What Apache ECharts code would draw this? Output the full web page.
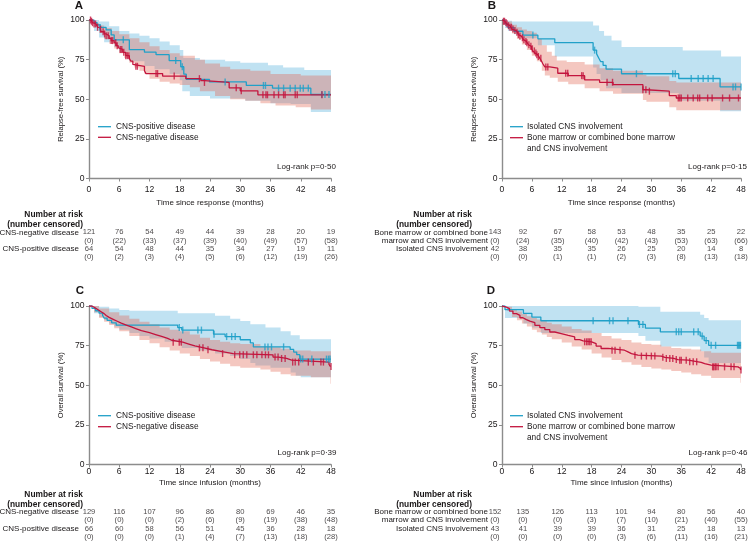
<!DOCTYPE html>
<html><head><meta charset="utf-8">
<script src="https://cdn.jsdelivr.net/npm/echarts@6/dist/echarts.min.js"></script>
<style>html,body{margin:0;padding:0;background:#fff}#c{width:750px;height:558px}</style>
</head><body><div id="c"></div>
<script>
// ---------- data ----------
const monthTicks = [0, 6, 12, 18, 24, 30, 36, 42, 48];

// Panel A: relapse-free survival by CNS status
const rfsPosA = [[0,100],[1,98.4],[1.6,96.9],[2.2,95.3],[3.4,93.8],[4.4,90.6],[5,87.5],[8,81.3],[11,79.7],[13.3,78.1],[15.9,74.4],[18.2,70.5],[18.8,65.8],[19.3,62.5],[23.9,60.9],[31.2,58.7],[36.4,57.0],[44,53.0],[48,53.0]];
const rfsNegA = [[0,100],[0.4,99.2],[0.7,98.3],[1.0,97.5],[1.4,96.6],[1.7,95.4],[2.1,94.2],[2.4,92.6],[3.0,91.2],[3.4,90.1],[4.0,88.4],[4.4,87.0],[5.0,85.6],[5.4,83.8],[5.8,82.5],[6.0,81.4],[6.7,79.6],[7.3,77.5],[8.0,75.8],[8.3,74.0],[8.7,72.0],[9.0,70.8],[11.0,68.0],[11.3,66.2],[14.6,64.6],[19.2,63.0],[22.2,61.7],[22.9,60.6],[27.8,57.2],[30.0,55.3],[33.5,52.8],[48,52.8]];
const censPosA = [2.2,6.8,17.2,18.5,27.0,34.6,35.0,37.6,38.6,39.9,40.9,41.9,42.5,43.5,46.2,46.8,47.6];
const censNegA = [0.3,0.5,0.7,1.0,1.3,1.7,2.3,2.8,3.1,3.4,3.8,4.4,4.7,5.3,5.6,6.2,6.5,6.9,7.3,7.6,7.9,9.3,9.6,13.3,13.6,16.9,21.9,22.9,29.2,30.2,34.5,35.1,35.4,36.7,37.6,38.6,38.9,40.9,41.3,46.2];
const bandPosA_up = [[0,100],[2,99],[4,96],[6,93],[8,91.5],[10,90],[12,88.5],[14,86.5],[16,84],[18,81],[18.7,76],[22,75],[27,74],[30,73],[35.5,71.5],[38.5,70],[42.7,68.5],[48,68.5]];
const bandPosA_lo = [[0,100],[1,93],[2,89],[3,86],[5,83],[6,80],[8,74],[11,71],[13,69],[16,66],[18,62],[18.5,55],[20,52],[24,50.5],[28,50.5],[31,49],[36,47.5],[40,47],[44,42],[48,41.5]];
const bandNegA_up = [[0,100],[1,98],[2,96.5],[3,95],[4.5,93],[6,91],[8,88.5],[10,86],[12,83.5],[14,81],[16,79],[18,77.5],[21,75],[23,72.5],[26,70.5],[28,69],[32,68],[36,66],[42,65],[48,65]];
const bandNegA_lo = [[0,100],[1,96],[2,92],[3,88],[4,85],[5,82],[6,79],[7,76],[8,73],[9,70],[10,68],[11,66],[12,63],[14,61],[16,60],[18,59],[20,57.5],[22,55],[25,52],[28,50],[31,49],[34,47.5],[37,46],[41,45],[44,43.5],[48,43]];
const riskNegA = [121,76,54,49,44,39,28,20,19];
const censNumNegA = [0,22,33,37,39,40,49,57,58];
const riskPosA = [64,54,48,44,35,34,27,19,11];
const censNumPosA = [0,2,3,4,5,6,12,19,26];

// Panel B: relapse-free survival by site of disease
const rfsIsoB = [[0,100],[0.6,97.6],[1.2,95.2],[2.4,92.9],[4.2,90.5],[7.2,88.1],[10.6,85.7],[18.3,81.0],[19.0,78.6],[19.4,76.2],[19.8,73.8],[20.3,71.4],[20.9,69.0],[24.0,66.1],[35.5,63.1],[43.8,57.8],[48,57.8]];
const rfsBmB = [[0,100],[0.3,99.2],[0.6,98.4],[0.9,97.6],[1.2,96.4],[1.6,95.4],[2.0,94.3],[2.4,93.3],[2.9,92.2],[3.3,90.8],[3.6,89.8],[3.9,88.8],[4.3,87.6],[4.6,86.5],[4.9,85.6],[5.3,84.4],[5.6,83.4],[5.9,81.8],[6.2,80.5],[6.6,79.2],[6.9,78.0],[7.2,77.0],[7.6,75.8],[7.9,74.3],[8.2,72.4],[8.6,70.4],[9.6,69.6],[11.2,66.4],[13.3,64.9],[16.6,62.2],[19.6,60.7],[22.3,59.2],[28.3,56.0],[29.0,55.1],[33.6,52.3],[35.0,50.8],[48,50.8]];
const censIsoB = [6.2,18.6,27.0,34.3,34.8,38.0,39.4,40.4,41.4,42.4,46.4,46.9,48.0];
const censBmB = [0.3,0.5,0.8,1.0,1.3,1.6,1.9,2.2,2.6,3.0,3.3,3.6,4.1,4.4,4.8,5.0,5.4,5.8,6.1,6.5,6.8,7.0,7.3,7.8,8.8,9.2,12.8,13.2,16.0,16.3,21.1,22.2,28.3,28.9,29.6,35.4,35.7,36.0,37.3,38.4,39.3,39.7,41.3,42.2,44.3,45.7,47.5];
const bandIsoB_up = [[0,100],[1,99.5],[2,99],[18.3,96.5],[19.5,93],[20.5,90],[22,87],[24,83],[36.3,80.7],[44,77],[48,77]];
const bandIsoB_lo = [[0,100],[0.6,95],[1.2,93],[2.4,91],[4.2,88.5],[7.2,84],[10.6,77],[18.3,70],[19,66],[19.8,62],[20.9,57],[24,54],[35.5,49],[43.8,42.5],[48,42.5]];
const bandBmB_up = [[0,100],[1,99],[2,97],[3,95.5],[4,94],[5,93],[6,92],[7,88],[8,84],[9,80],[10,77.5],[11,74.5],[13,73.5],[16.6,72],[19.6,69.5],[22.3,68],[28.3,65.5],[29,64.5],[33.6,61.5],[35,60.5],[48,60.5]];
const bandBmB_lo = [[0,100],[1,96],[2,91.5],[3,88],[4,84.5],[5,81],[6,77.5],[7,74],[8,68],[8.6,65],[9.6,63.5],[11.2,61],[13.3,59.5],[16.6,57],[19.6,55],[22.3,53.5],[28.3,49.5],[29,48.5],[33.6,45],[35,43],[48,42.5]];
const riskBmB = [143,92,67,58,53,48,35,25,22];
const censNumBmB = [0,24,35,40,42,43,53,63,66];
const riskIsoB = [42,38,35,35,26,25,20,14,8];
const censNumIsoB = [0,0,1,1,2,3,8,13,18];

// Panel C: overall survival by CNS status
const osPosC = [[0,100],[0.6,98.5],[1.3,97.0],[2.0,95.5],[2.7,94.0],[3.0,92.4],[3.6,90.9],[4.5,89.4],[5.4,87.9],[17.6,86.4],[18.4,84.8],[24.7,82.2],[27.0,80.7],[30.0,78.7],[32.0,76.7],[32.6,74.2],[39.9,72.6],[40.6,70.9],[41.2,69.3],[41.8,66.5],[48,66.5]];
const osNegC = [[0,100],[0.6,98.8],[1.2,97.6],[1.8,96.4],[2.4,95.2],[3.0,94.0],[3.4,92.8],[4.0,91.6],[4.8,90.4],[5.6,89.2],[6.4,88.0],[7.4,86.8],[8.4,85.6],[9.4,84.4],[10.4,83.2],[12.0,82.0],[13.2,80.8],[14.4,79.6],[15.6,78.4],[16.4,77.2],[18.6,76.0],[19.8,74.8],[21.0,73.6],[22.8,72.4],[24.4,71.2],[26.4,70.0],[28.6,69.2],[36.5,67.8],[37.6,66.9],[39.2,65.8],[40.2,64.6],[47.6,63.2],[47.9,61.8],[48,61.8]];
const censPosC = [17.9,18.6,21.6,22.3,24.8,27.3,28.3,29.0,34.9,35.5,36.2,38.6,42.0,42.4,44.2,47.1,47.5,47.8];
const censNegC = [16.7,17.9,18.3,21.9,22.6,23.6,26.5,28.9,29.9,30.6,31.3,32.6,33.3,34.3,35.0,35.6,36.9,37.5,38.2,38.9,40.4,40.9,41.6,43.5,44.5,46.0,46.5,48.0];
const bandPosC_up = [[0,100],[2,99.5],[4,98.5],[6,97.5],[8,97],[17.6,95.5],[25,93.8],[28,92],[30,90.5],[32,88.5],[35,86.5],[38,84],[40,81.5],[41.8,79],[48,79]];
const bandPosC_lo = [[0,100],[1,95.5],[2,93],[3,91],[4,89],[5,87],[6,85],[8,83],[10,81],[12,79.5],[15,77.5],[18,75.5],[18.4,73.5],[22,72],[25,70],[28,68.5],[30,66.5],[32,64],[33,62.5],[36,61],[40,58],[41,56],[42,55],[48,54.3]];
const bandNegC_up = [[0,100],[2,98.5],[4,96],[6,94],[8,92],[10,90],[12,88.5],[14,86.5],[16,85],[18,84],[20,82],[22,80],[24,78.5],[26,77.5],[28,76.5],[30,76],[34,74.5],[36,74],[38,73],[40,72],[44,71.5],[48,71]];
const bandNegC_lo = [[0,100],[1,96],[2,92.5],[3,90],[4,88],[5,86],[6,84],[8,81],[10,78.5],[12,76.5],[14,74],[16,72],[18,70],[20,68.5],[22,66.5],[24,65],[26,63.5],[28,62],[30,61],[34,60],[36,58.5],[38,57],[40,56],[44,55],[47.9,51]];
const riskNegC = [129,116,107,96,86,80,69,46,35];
const censNumNegC = [0,0,0,2,6,9,19,38,48];
const riskPosC = [66,60,58,56,51,45,36,28,18];
const censNumPosC = [0,0,0,1,4,7,13,18,28];

// Panel D: overall survival by site of disease
const osIsoD = [[0,100],[0.6,97.7],[4.3,95.4],[6.0,93.0],[7.8,90.7],[27.4,88.4],[28.8,86.1],[31.8,83.7],[39.8,81.0],[40.6,78.2],[41.5,75.2],[48,75.2]];
const osBmD = [[0,100],[0.4,99.3],[0.9,98.3],[1.5,96.8],[2.2,95.2],[2.9,94.1],[3.6,92.6],[4.2,91.4],[4.9,90.5],[5.6,89.5],[6.6,87.8],[7.6,86.4],[8.6,85.1],[9.6,83.6],[10.6,82.6],[11.9,81.5],[13.3,80.5],[14.6,78.8],[15.6,78.0],[16.3,77.4],[18.0,76.3],[18.9,74.7],[19.9,73.2],[21.3,72.1],[24.6,71.1],[25.3,70.0],[26.0,69.0],[27.3,68.4],[32.0,67.6],[32.7,66.9],[34.5,66.2],[35.3,65.8],[37.4,64.8],[39.4,64.4],[40.0,63.6],[40.7,62.7],[42.0,61.6],[47.4,60.6],[47.9,59.6],[48,59.6]];
const censIsoD = [18.3,21.6,22.3,25.3,27.6,28.3,35.0,35.5,36.0,38.5,39.4,40.2,41.0,42.0,42.9,47.3,47.5,47.7,47.9];
const censBmD = [16.6,17.0,17.3,17.6,17.9,22.1,22.7,23.7,26.7,28.0,29.0,30.0,30.7,32.3,33.0,33.7,34.3,35.0,35.7,36.0,37.0,37.7,38.4,39.1,42.3,42.5,42.8,43.0,43.4,44.7,46.0,46.6,48.0];
const bandIsoD_up = [[0,100],[27.4,99.5],[31.8,96.3],[39.8,94.5],[40.6,92.5],[41.5,91],[48,91]];
const bandIsoD_lo = [[0,100],[0.6,92.5],[4.3,89],[6,86.5],[7.8,83],[27.4,81],[28.8,78],[31.8,74.5],[39.8,71.5],[40.6,67.5],[41.5,64],[48,64]];
const bandBmD_up = [[0,100],[1,99.5],[2,98],[3,96.5],[4,95],[5,93.5],[6,92.5],[7,91.5],[8,90.5],[9,89.5],[10,88.5],[12,87],[14,85.5],[16,84.5],[18,83],[20,81],[22,79.5],[24,78.5],[26,77],[28,76],[30,75.5],[32,74.5],[34,73.5],[36,73],[38,72.5],[40,71.5],[42,70.5],[48,70]];
const bandBmD_lo = [[0,100],[1,97],[2,93],[3,91],[4,89],[5,87],[6,85],[7,83.5],[8,82],[9,80.5],[10,79],[12,77],[14,74.5],[16,72.5],[18,70],[20,67.5],[22,66],[24,64.5],[26,63],[28,61.5],[30,60.5],[32,60],[34,59],[36,58],[38,57],[40,56],[42,54.5],[47.9,51.5]];
const riskBmD = [152,135,126,113,101,94,80,56,40];
const censNumBmD = [0,0,0,3,7,10,21,40,55];
const riskIsoD = [43,41,39,39,36,31,25,18,13];
const censNumIsoD = [0,0,0,0,3,6,11,16,21];

const rowsCNS = ['CNS-negative disease', '', 'CNS-positive disease', ''];
const rowsSite = ['Bone marrow or combined bone', 'marrow and CNS involvement', 'Isolated CNS involvement', ''];

// ---------- styling / layout ----------
const FONT = "'Liberation Sans',Arial,sans-serif";
const FS = 8;          // general text
const FS_TICK = 8.6;   // axis tick labels
const FS_NUM = 7.6;    // risk table numbers
const FS_LEG = 8.3;    // legend text
const FS_YNAME = 7.6;  // y axis names
const FS_HEAD = 8.4;   // risk table header
const BLUE = '#20a0c8', RED = '#c3143d';
const BLUE_BAND = 'rgba(80,175,220,0.36)', RED_BAND = 'rgba(225,100,80,0.36)';
const AXIS_C = '#8c8c8c', TXT = '#1a1718';
const XMAX = 48;

const plotGrids = [
  {left: 89, top: 20, width: 242, height: 158.5},
  {left: 502, top: 20, width: 239, height: 158.5},
  {left: 89, top: 306, width: 242, height: 158.5},
  {left: 502, top: 306, width: 239, height: 158.5}
];
const riskGrids = [
  {left: 89, top: 228.2, width: 242, height: 33},
  {left: 502, top: 228.2, width: 239, height: 33},
  {left: 89, top: 507.5, width: 242, height: 33.7},
  {left: 502, top: 507.5, width: 239, height: 33.7}
];
// horizontal pixel nudges of the first risk-table columns (layout only)
const colNudgeCNS = [0, 0, 0, 0, 0, 0, 0, 0, 0];
const colNudgeSite = [-7, -9, -4, 0, 0, 0, 0, 0, 0];
const xNames = ['Time since response (months)', 'Time since response (months)', 'Time since infusion (months)', 'Time since infusion (months)'];
const yNames = ['Relapse-free survival (%)', 'Relapse-free survival (%)', 'Overall survival (%)', 'Overall survival (%)'];
const xLabelMargin = [7, 7, 2.5, 2.5];
const xNameGap = [20, 20, 14, 14];
const riskLabelMargin = [10, 14, 10, 14];

function stepAt(curve, t) {
  let v = curve[0][1];
  for (const p of curve) { if (p[0] <= t) v = p[1]; else break; }
  return v;
}

function bandSeries(ax, up, lo, color) {
  return {
    type: 'custom', xAxisIndex: ax, yAxisIndex: ax, silent: true, z: 1,
    data: [[0, 100]],
    renderItem: function (params, api) {
      const pts = [];
      for (let i = 0; i < up.length; i++) {
        const t1 = i + 1 < up.length ? up[i + 1][0] : XMAX;
        pts.push(api.coord([up[i][0], up[i][1]]), api.coord([t1, up[i][1]]));
      }
      for (let i = lo.length - 1; i >= 0; i--) {
        const t1 = i + 1 < lo.length ? lo[i + 1][0] : XMAX;
        pts.push(api.coord([t1, lo[i][1]]), api.coord([lo[i][0], lo[i][1]]));
      }
      return {type: 'polygon', shape: {points: pts}, style: {fill: color}, silent: true};
    }
  };
}
function lineSeries(ax, name, curve, color) {
  return {type: 'line', name: name, xAxisIndex: ax, yAxisIndex: ax, data: curve, step: 'end',
    showSymbol: false, symbol: 'none', silent: true, z: 3,
    lineStyle: {color: color, width: 1.3}, itemStyle: {color: color}};
}
function censorSeries(ax, curve, times, color) {
  return {type: 'scatter', xAxisIndex: ax, yAxisIndex: ax, silent: true, z: 4,
    symbol: 'rect', symbolSize: [1.4, 7], itemStyle: {color: color},
    data: times.map(t => [t, stepAt(curve, t)])};
}
function riskSeries(ax, r1, c1, r2, c2, nudge) {
  const data = [];
  monthTicks.forEach((m, i) => {
    const lab = {offset: [nudge[i], 0]};
    data.push({value: [m, 0], text: String(r1[i]), label: lab});
    data.push({value: [m, 1], text: '(' + c1[i] + ')', label: lab});
    data.push({value: [m, 2], text: String(r2[i]), label: lab});
    data.push({value: [m, 3], text: '(' + c2[i] + ')', label: lab});
  });
  return {type: 'scatter', xAxisIndex: ax, yAxisIndex: ax, silent: true,
    symbolSize: 1, itemStyle: {color: 'rgba(0,0,0,0)'},
    label: {show: true, position: 'inside', formatter: p => p.data.text,
      fontFamily: FONT, fontSize: FS_NUM, color: TXT},
    data: data};
}

const grids = plotGrids.concat(riskGrids).map(g => Object.assign({outerBoundsMode: 'none', containLabel: false}, g));

const xAxes = [], yAxes = [];
for (let i = 0; i < 4; i++) {
  xAxes.push({type: 'value', gridIndex: i, min: 0, max: XMAX, interval: 6,
    axisLine: {show: true, onZero: false, lineStyle: {color: AXIS_C, width: 1.4}},
    axisTick: {show: true, length: 3, lineStyle: {color: AXIS_C, width: 1}},
    axisLabel: {fontFamily: FONT, fontSize: FS_TICK, color: TXT, margin: xLabelMargin[i]},
    splitLine: {show: false},
    name: xNames[i], nameLocation: 'middle', nameGap: xNameGap[i],
    nameTextStyle: {fontFamily: FONT, fontSize: FS, color: TXT}});
  yAxes.push({type: 'value', gridIndex: i, min: 0, max: 100, interval: 25,
    axisLine: {show: true, lineStyle: {color: AXIS_C, width: 1.4}},
    axisTick: {show: true, length: 3, lineStyle: {color: AXIS_C, width: 1}},
    axisLabel: {fontFamily: FONT, fontSize: FS_TICK, color: TXT, margin: 4.5},
    splitLine: {show: false},
    name: yNames[i], nameLocation: 'middle', nameGap: 24,
    nameTextStyle: {fontFamily: FONT, fontSize: FS_YNAME, color: TXT}});
}
for (let i = 0; i < 4; i++) {
  xAxes.push({type: 'value', gridIndex: 4 + i, min: 0, max: XMAX, interval: 6, show: false});
  yAxes.push({type: 'category', gridIndex: 4 + i, inverse: true,
    data: (i % 2 === 0) ? rowsCNS : rowsSite,
    axisLine: {show: false}, axisTick: {show: false}, splitLine: {show: false},
    axisLabel: {interval: 0, fontFamily: FONT, fontSize: FS, color: TXT, margin: riskLabelMargin[i]}});
}

const series = [
  bandSeries(0, bandPosA_up, bandPosA_lo, BLUE_BAND),
  bandSeries(0, bandNegA_up, bandNegA_lo, RED_BAND),
  lineSeries(0, 'CNS-positive disease', rfsPosA, BLUE),
  lineSeries(0, 'CNS-negative disease', rfsNegA, RED),
  censorSeries(0, rfsPosA, censPosA, BLUE),
  censorSeries(0, rfsNegA, censNegA, RED),

  bandSeries(1, bandIsoB_up, bandIsoB_lo, BLUE_BAND),
  bandSeries(1, bandBmB_up, bandBmB_lo, RED_BAND),
  lineSeries(1, 'Isolated CNS involvement', rfsIsoB, BLUE),
  lineSeries(1, 'Bone marrow or combined bone marrow and CNS involvement', rfsBmB, RED),
  censorSeries(1, rfsIsoB, censIsoB, BLUE),
  censorSeries(1, rfsBmB, censBmB, RED),

  bandSeries(2, bandPosC_up, bandPosC_lo, BLUE_BAND),
  bandSeries(2, bandNegC_up, bandNegC_lo, RED_BAND),
  lineSeries(2, 'CNS-positive disease', osPosC, BLUE),
  lineSeries(2, 'CNS-negative disease', osNegC, RED),
  censorSeries(2, osPosC, censPosC, BLUE),
  censorSeries(2, osNegC, censNegC, RED),

  bandSeries(3, bandIsoD_up, bandIsoD_lo, BLUE_BAND),
  bandSeries(3, bandBmD_up, bandBmD_lo, RED_BAND),
  lineSeries(3, 'Isolated CNS involvement', osIsoD, BLUE),
  lineSeries(3, 'Bone marrow or combined bone marrow and CNS involvement', osBmD, RED),
  censorSeries(3, osIsoD, censIsoD, BLUE),
  censorSeries(3, osBmD, censBmD, RED),

  riskSeries(4, riskNegA, censNumNegA, riskPosA, censNumPosA, colNudgeCNS),
  riskSeries(5, riskBmB, censNumBmB, riskIsoB, censNumIsoB, colNudgeSite),
  riskSeries(6, riskNegC, censNumNegC, riskPosC, censNumPosC, colNudgeCNS),
  riskSeries(7, riskBmD, censNumBmD, riskIsoD, censNumIsoD, colNudgeSite)
];

// ---------- annotations ----------
function txt(x, y, s, opts) {
  return {type: 'text', silent: true, style: Object.assign({text: s, x: x, y: y, fill: TXT,
    font: FS + 'px ' + FONT, align: 'left', verticalAlign: 'middle'}, opts || {})};
}
function legLine(x1, x2, y, color) {
  return {type: 'line', silent: true, shape: {x1: x1, y1: y, x2: x2, y2: y}, style: {stroke: color, lineWidth: 1.3}};
}
const bold = (sz) => 'bold ' + sz + 'px ' + FONT;
const leg = {font: FS_LEG + 'px ' + FONT};
const head = {align: 'right', font: bold(FS_HEAD)};
const graphic = [
  txt(79, 6, 'A', {font: bold(11.5), align: 'center'}),
  txt(492, 6, 'B', {font: bold(11.5), align: 'center'}),
  txt(80, 291, 'C', {font: bold(11.5), align: 'center'}),
  txt(491, 291, 'D', {font: bold(11.5), align: 'center'}),
  // legends
  legLine(98, 111, 126.7, BLUE), txt(116, 126.7, 'CNS-positive disease', leg),
  legLine(98, 111, 137.3, RED), txt(116, 137.3, 'CNS-negative disease', leg),
  legLine(510, 523, 126.7, BLUE), txt(527, 126.7, 'Isolated CNS involvement', leg),
  legLine(510, 523, 137.7, RED), txt(527, 137.7, 'Bone marrow or combined bone marrow', leg),
  txt(527, 148.7, 'and CNS involvement', leg),
  legLine(98, 111, 415.7, BLUE), txt(116, 415.7, 'CNS-positive disease', leg),
  legLine(98, 111, 426.7, RED), txt(116, 426.7, 'CNS-negative disease', leg),
  legLine(510, 523, 415.7, BLUE), txt(527, 415.7, 'Isolated CNS involvement', leg),
  legLine(510, 523, 426.7, RED), txt(527, 426.7, 'Bone marrow or combined bone marrow', leg),
  txt(527, 437.7, 'and CNS involvement', leg),
  // log-rank
  txt(336, 166.7, 'Log-rank p=0·50', {align: 'right'}),
  txt(747, 166.7, 'Log-rank p=0·15', {align: 'right'}),
  txt(336.5, 452.7, 'Log-rank p=0·39', {align: 'right'}),
  txt(747.5, 452.7, 'Log-rank p=0·46', {align: 'right'}),
  // risk table headers
  txt(83, 214.3, 'Number at risk', head),
  txt(83, 225, '(number censored)', head),
  txt(472, 214.3, 'Number at risk', head),
  txt(472, 224.5, '(number censored)', head),
  txt(83, 494.3, 'Number at risk', head),
  txt(83, 505, '(number censored)', head),
  txt(472, 494.3, 'Number at risk', head),
  txt(472, 505, '(number censored)', head)
];

const chart = echarts.init(document.getElementById('c'), null, {renderer: 'canvas'});
chart.setOption({
  animation: false,
  backgroundColor: '#fff',
  textStyle: {fontFamily: FONT},
  grid: grids,
  xAxis: xAxes,
  yAxis: yAxes,
  series: series,
  graphic: graphic
});
</script>
</body></html>
